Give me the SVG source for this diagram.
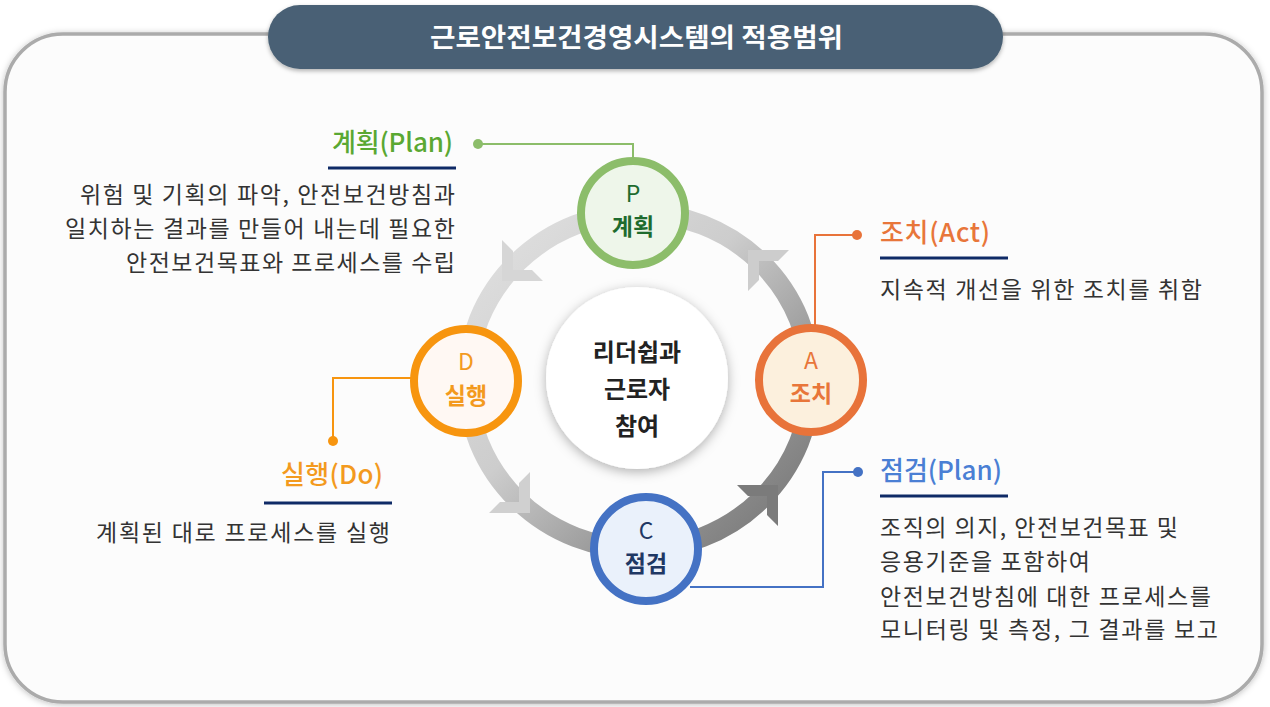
<svg xmlns="http://www.w3.org/2000/svg" width="1270" height="707" viewBox="0 0 1270 707">
<defs>
  <filter id="frameShadow" x="-5%" y="-5%" width="110%" height="110%">
    <feDropShadow dx="0" dy="1" stdDeviation="3" flood-color="#000" flood-opacity="0.25"/>
  </filter>
  <filter id="pillShadow" x="-5%" y="-20%" width="110%" height="150%">
    <feDropShadow dx="0" dy="2" stdDeviation="2" flood-color="#000" flood-opacity="0.3"/>
  </filter>
  <filter id="centerShadow" x="-30%" y="-30%" width="160%" height="160%">
    <feDropShadow dx="0" dy="3" stdDeviation="6" flood-color="#000" flood-opacity="0.3"/>
  </filter>
  <linearGradient id="ringGrad" x1="0" y1="0" x2="1" y2="1">
    <stop offset="0" stop-color="#e2e2e2"/>
    <stop offset="0.42" stop-color="#cdcdcd"/>
    <stop offset="0.72" stop-color="#959595"/>
    <stop offset="1" stop-color="#707070"/>
  </linearGradient>
  <polygon id="chev" points="0,0 41,0 30,11 11,11 11,30 0,41"/>
  <style>
    .kr { font-family: "Noto Sans CJK KR", "Noto Sans", sans-serif; }
    .desc { font-size: 23px; fill: #333333; }
    .lbl { font-size: 26px; font-weight: 500; }
    .under { stroke: #0f2a66; stroke-width: 3; }
    .node-letter { font-size: 23px; font-weight: 400; text-anchor: middle; }
    .node-name { font-size: 23px; font-weight: 700; text-anchor: middle; }
    .ctr { font-size: 24px; font-weight: 700; fill: #222222; text-anchor: middle; }
    .conn { fill: none; stroke-width: 2; }
  </style>
</defs>

<rect width="1270" height="707" fill="#ffffff"/>

<!-- frame -->
<rect x="5" y="34" width="1257" height="668" rx="58" ry="58" fill="#fcfcfc" stroke="#ababab" stroke-width="3.5" filter="url(#frameShadow)"/>

<!-- title -->
<g id="title">
  <rect x="268" y="5" width="735" height="64" rx="32" ry="32" fill="#4a6174" filter="url(#pillShadow)"/>
  <text class="kr" x="430" y="47" font-size="26" font-weight="700" fill="#ffffff" textLength="413" lengthAdjust="spacingAndGlyphs">근로안전보건경영시스템의 적용범위</text>
</g>

<!-- cycle ring and arrowheads -->
<g id="connectors">
  <ellipse cx="639" cy="381" rx="172" ry="168" fill="none" stroke="url(#ringGrad)" stroke-width="20"/>
  <use href="#chev" transform="translate(748,250)" fill="#cdcdcd"/>
  <use href="#chev" transform="translate(502,281) rotate(-90)" fill="#d6d6d6"/>
  <use href="#chev" transform="translate(530,513) rotate(180)" fill="#d0d0d0"/>
  <use href="#chev" transform="translate(778,485) rotate(90)" fill="#7b7b7b"/>

  <!-- callout lines -->
  <polyline class="conn" points="478,144 633,144 633,158" stroke="#8cbd6a"/>
  <circle cx="478" cy="144" r="5" fill="#8cbd6a"/>
  <polyline class="conn" points="857,235 815,235 815,326" stroke="#e8733a"/>
  <circle cx="857" cy="235" r="5" fill="#e8733a"/>
  <polyline class="conn" points="858,472 823,472 823,587 690,587" stroke="#4472c4"/>
  <circle cx="858" cy="472" r="5" fill="#4472c4"/>
  <polyline class="conn" points="333,441 333,378 412,378" stroke="#f7950f"/>
  <circle cx="333" cy="441" r="5" fill="#f7950f"/>
</g>

<!-- center -->
<g id="center">
  <circle cx="637" cy="378" r="91" fill="#ffffff" filter="url(#centerShadow)"/>
  <text class="kr ctr" x="637" y="361">리더쉽과</text>
  <text class="kr ctr" x="637" y="398">근로자</text>
  <text class="kr ctr" x="637" y="435">참여</text>
</g>

<!-- nodes -->
<g id="node-P">
  <circle cx="633" cy="213" r="52" fill="#eef6ea" stroke="#8cbd6a" stroke-width="8"/>
  <text class="kr node-letter" x="633" y="202" fill="#1e6b2e">P</text>
  <text class="kr node-name" x="633" y="235" fill="#1e6b2e">계획</text>
</g>
<g id="node-D">
  <circle cx="466" cy="381" r="52" fill="#fff8f3" stroke="#f7950f" stroke-width="8"/>
  <text class="kr node-letter" x="466" y="370" fill="#f39a1e">D</text>
  <text class="kr node-name" x="466" y="404" fill="#f39a1e">실행</text>
</g>
<g id="node-A">
  <circle cx="811" cy="380" r="52" fill="#fcf0dd" stroke="#e8733a" stroke-width="8"/>
  <text class="kr node-letter" x="811" y="369" fill="#e8763a">A</text>
  <text class="kr node-name" x="811" y="402" fill="#e8763a">조치</text>
</g>
<g id="node-C">
  <circle cx="646" cy="549" r="52" fill="#eaf1fb" stroke="#4472c4" stroke-width="8"/>
  <text class="kr node-letter" x="646" y="539" fill="#1f3864">C</text>
  <text class="kr node-name" x="646" y="572" fill="#1f3864">점검</text>
</g>

<!-- labels -->
<g id="label-plan">
  <text class="kr lbl" x="332" y="152" fill="#5aa832" textLength="121">계획(Plan)</text>
  <line class="under" x1="328" y1="168" x2="456" y2="168"/>
  <text class="kr desc" x="80" y="203" textLength="375">위험 및 기획의 파악, 안전보건방침과</text>
  <text class="kr desc" x="65" y="237" textLength="390">일치하는 결과를 만들어 내는데 필요한</text>
  <text class="kr desc" x="126" y="271" textLength="329">안전보건목표와 프로세스를 수립</text>
</g>
<g id="label-act">
  <text class="kr lbl" x="880" y="242" fill="#e8763a" textLength="110">조치(Act)</text>
  <line class="under" x1="880" y1="258" x2="1008" y2="258"/>
  <text class="kr desc" x="880" y="298" textLength="322">지속적 개선을 위한 조치를 취함</text>
</g>
<g id="label-check">
  <text class="kr lbl" x="880" y="480" fill="#4a7fd4" textLength="122">점검(Plan)</text>
  <line class="under" x1="880" y1="496" x2="1008" y2="496"/>
  <text class="kr desc" x="880" y="536" textLength="298">조직의 의지, 안전보건목표 및</text>
  <text class="kr desc" x="880" y="570" textLength="210">응용기준을 포함하여</text>
  <text class="kr desc" x="880" y="605" textLength="331">안전보건방침에 대한 프로세스를</text>
  <text class="kr desc" x="880" y="638" textLength="338">모니터링 및 측정, 그 결과를 보고</text>
</g>
<g id="label-do">
  <text class="kr lbl" x="281" y="484" fill="#f39a1e" textLength="102">실행(Do)</text>
  <line class="under" x1="264" y1="503" x2="392" y2="503"/>
  <text class="kr desc" x="96" y="541" textLength="294">계획된 대로 프로세스를 실행</text>
</g>
</svg>
